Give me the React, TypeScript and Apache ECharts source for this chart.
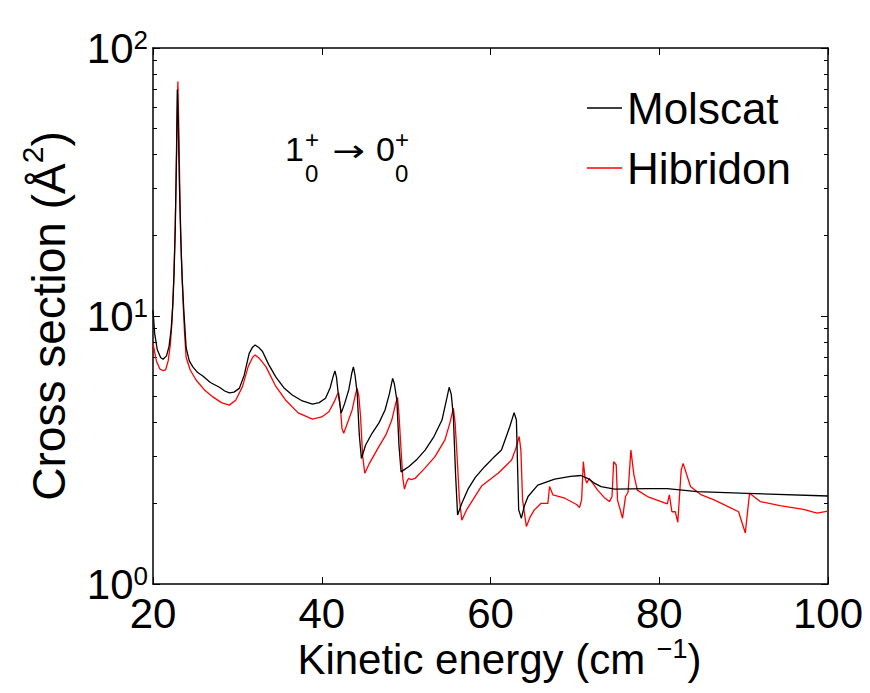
import React, { useEffect, useRef } from "react";
import * as echarts from "echarts";

// ---- data ----
const xTickValues = [20, 40, 60, 80, 100];
const yDecadeTicks = [1, 10, 100];
const yMinorTicks = [2, 3, 4, 5, 6, 7, 8, 9, 20, 30, 40, 50, 60, 70, 80, 90];
const seriesNames = ["Molscat", "Hibridon"];

const molscatE = [
  20.0, 20.2, 20.5, 20.9, 21.2, 21.6, 21.9, 22.15, 22.35, 22.5, 22.65, 22.78, 22.88, 23.0, 23.12,
  23.28, 23.45, 23.65, 23.93, 24.3, 24.72, 25.3, 25.9, 26.8, 27.87, 28.5, 29.05, 29.6, 30.23, 30.8,
  31.4, 31.8, 32.1, 32.5, 32.98, 33.7, 34.55, 35.5, 36.5, 37.7, 38.9, 39.7, 40.45, 41.0, 41.35,
  41.56, 41.75, 41.95, 42.3, 42.7, 43.2, 43.55, 43.75, 43.95, 44.2, 44.45, 44.7, 45.2, 45.96, 46.8,
  47.5, 48.0, 48.4, 48.6, 48.9, 49.15, 49.4, 49.7, 50.3, 51.2, 52.25, 53.3, 54.25, 54.8, 55.1,
  55.35, 55.6, 55.85, 56.1, 56.6, 57.37, 58.2, 59.3, 60.3, 61.3, 62.28, 62.8, 63.07, 63.34, 63.66,
  64.0, 64.45, 65.6, 67.6, 69.5, 70.7, 71.5, 72.3, 73.1, 74.7, 78.6, 80.95, 84.5, 90.4, 100.0,
];
const molscatV = [
  10.5, 8.6, 7.5, 7.0, 6.9, 7.1, 7.7, 8.9, 11, 14.5, 22, 40, 70, 52, 32,
  20, 14, 10.5, 7.6, 6.8, 6.46, 6.15, 5.97, 5.65, 5.42, 5.25, 5.17, 5.2, 5.37, 6.0,
  7.25, 7.65, 7.79, 7.65, 7.37, 6.6, 5.93, 5.4, 5.07, 4.82, 4.69, 4.75, 4.93, 5.4, 5.95,
  6.24, 5.9, 5.15, 4.34, 4.7, 5.3, 6.1, 6.46, 6.0, 5.15, 3.6, 2.94, 3.3, 3.65, 4.0,
  4.46, 5.1, 5.85, 5.6, 4.86, 3.3, 2.62, 2.66, 2.74, 2.9, 3.16, 3.55, 4.09, 4.9, 5.42,
  5.1, 4.21, 2.6, 1.81, 2.0, 2.27, 2.5, 2.74, 2.95, 3.16, 3.86, 4.36, 4.09, 1.89, 1.76,
  1.95, 2.12, 2.34, 2.46, 2.52, 2.54, 2.48, 2.38, 2.31, 2.26, 2.27, 2.27, 2.21, 2.18, 2.13,
];

const hibridonE = [
  20.0, 20.4, 20.8, 21.2, 21.5, 21.8, 22.05, 22.25, 22.45, 22.6, 22.75, 22.87, 22.95, 23.06, 23.2,
  23.35, 23.55, 23.75, 23.93, 24.4, 25.1, 26.1, 27.1, 28.1, 29.05, 29.8, 30.6, 31.3, 31.8, 32.1,
  32.6, 33.4, 34.5, 35.7, 37.2, 38.9, 40.0, 40.85, 41.5, 41.85, 42.0, 42.2, 42.4, 42.6, 43.0,
  43.6, 44.0, 44.2, 44.4, 44.6, 44.85, 45.1, 45.6, 46.75, 47.6, 48.3, 48.75, 48.98, 49.15, 49.4,
  49.6, 49.8, 50.05, 50.3, 50.6, 51.07, 52.2, 53.4, 54.6, 55.2, 55.6, 55.8, 56.0, 56.3, 56.6,
  57.2, 58.15, 58.94, 60.9, 62.0, 62.5, 63.0, 63.4, 63.6, 63.8, 64.25, 64.7, 65.2, 66.0, 66.8,
  67.0, 67.4, 68.8, 70.2, 70.55, 70.8, 71.0, 71.2, 71.4, 71.7, 72.7, 73.5, 74.1, 74.4, 74.6,
  74.9, 75.05, 75.65, 76.0, 76.3, 76.64, 77.0, 77.4, 78.6, 80.95, 81.2, 81.5, 81.9, 82.2, 82.6,
  82.83, 83.7, 85.0, 86.5, 89.4, 90.2, 90.7, 91.97, 94.3, 97.1, 98.7, 100.0,
];
const hibridonV = [
  7.9, 6.8, 6.35, 6.25, 6.3, 6.8, 7.8, 9.5, 13.5, 19.5, 33, 55, 75, 50, 27,
  17, 11.5, 8.5, 7.0, 6.3, 5.77, 5.3, 4.99, 4.75, 4.65, 4.85, 5.45, 6.5, 7.0, 7.16,
  6.95, 6.46, 5.5, 4.86, 4.35, 4.12, 4.2, 4.39, 4.8, 5.1, 5.17, 4.6, 3.8, 3.65, 3.95,
  4.46, 5.1, 5.37, 5.0, 4.21, 3.0, 2.59, 2.8, 3.25, 3.6, 4.09, 4.7, 4.97, 4.3, 3.16,
  2.5, 2.26, 2.4, 2.48, 2.45, 2.48, 2.7, 2.98, 3.45, 4.0, 4.53, 4.0, 3.16, 2.1, 1.73,
  1.9, 2.12, 2.32, 2.59, 2.8, 2.9, 3.2, 3.55, 3.16, 2.06, 1.64, 1.78, 1.89, 2.0, 2.0,
  2.31, 2.15, 2.09, 1.98, 1.93, 2.06, 2.86, 2.5, 2.38, 2.48, 2.24, 2.1, 2.03, 2.12, 2.86,
  2.78, 2.06, 1.76, 2.12, 2.2, 3.16, 2.55, 2.24, 2.12, 1.99, 2.15, 1.86, 1.86, 1.7, 2.66,
  2.82, 2.31, 2.15, 2.06, 1.86, 1.55, 2.18, 2.03, 1.96, 1.9, 1.84, 1.87,
];

const FONT = '"Liberation Sans", Arial, Helvetica, sans-serif';
const ARROW_FONT = '"DejaVu Sans", "Liberation Sans", sans-serif';

function zip(xs: number[], ys: number[]) {
  return xs.map((x, i) => [x, ys[i]]);
}

const axisLineStyle = { color: "#000", width: 1.5 };
const tickLineStyle = { color: "#000", width: 1 };

export default function App() {
  const ref = useRef<HTMLDivElement>(null);

  useEffect(() => {
    if (!ref.current) return;
    const chart = echarts.init(ref.current, null, { renderer: "svg" });

    const logCommon = {
      type: "log",
      logBase: 10,
      min: yDecadeTicks[0],
      max: yDecadeTicks[yDecadeTicks.length - 1],
      splitLine: { show: false },
      minorTick: { show: false },
    };

    const option: any = {
      animation: false,
      backgroundColor: "#fff",
      textStyle: { fontFamily: FONT },
      grid: { left: 150, right: 42, top: 48, bottom: 109, containLabel: false },
      legend: {
        orient: "vertical",
        left: 587,
        top: 86,
        padding: 0,
        icon: "rect",
        itemWidth: 35,
        itemHeight: 1.3,
        itemGap: 16,
        data: seriesNames,
        textStyle: { fontSize: 44, color: "#000", lineHeight: 44, fontFamily: FONT },
      },
      xAxis: [
        {
          type: "value",
          position: "bottom",
          min: xTickValues[0],
          max: xTickValues[xTickValues.length - 1],
          interval: 20,
          axisLine: { show: true, onZero: false, lineStyle: axisLineStyle },
          axisTick: { show: true, inside: true, length: 7, lineStyle: tickLineStyle },
          axisLabel: { fontSize: 42, lineHeight: 36, color: "#000", margin: 11, fontFamily: FONT },
          splitLine: { show: false },
          name: "{a|Kinetic energy (cm }{s|\u22121}{a|)}",
          nameLocation: "middle",
          nameGap: 51,
          nameMoveOverlap: false,
          nameTextStyle: {
            color: "#000",
            fontFamily: FONT,
            fontSize: 42,
            padding: [0, 0, 0, 18],
            rich: {
              a: { fontSize: 42, lineHeight: 42, padding: [7, 0, 0, 0], fontFamily: FONT, color: "#000" },
              s: { fontSize: 27, lineHeight: 27, verticalAlign: "top", fontFamily: FONT, color: "#000" },
            },
          },
        },
        {
          type: "value",
          position: "top",
          min: xTickValues[0],
          max: xTickValues[xTickValues.length - 1],
          interval: 20,
          axisLine: { show: true, onZero: false, lineStyle: axisLineStyle },
          axisTick: { show: true, inside: true, length: 7, lineStyle: tickLineStyle },
          axisLabel: { show: false },
          splitLine: { show: false },
        },
      ],
      yAxis: [
        {
          ...logCommon,
          position: "left",
          axisLine: { show: true, onZero: false, lineStyle: axisLineStyle },
          axisTick: { show: true, inside: true, length: 7, lineStyle: tickLineStyle },
          axisLabel: {
            margin: 5,
            formatter: (v: number) => `{b|10}{e|${Math.round(Math.log10(v))}}`,
            rich: {
              b: { fontSize: 42, lineHeight: 42, padding: [14, 0, 14, 0], fontFamily: FONT, color: "#000" },
              e: { fontSize: 26, lineHeight: 26, verticalAlign: "top", fontFamily: FONT, color: "#000" },
            },
          },
          name: "{a|Cross section (\u00C5}{s|2}{a|)}",
          nameLocation: "middle",
          nameGap: 90,
          nameMoveOverlap: false,
          nameTextStyle: {
            color: "#000",
            fontFamily: FONT,
            fontSize: 46,
            rich: {
              a: { fontSize: 46, lineHeight: 46, padding: [18, 0, 0, 0], fontFamily: FONT, color: "#000" },
              s: { fontSize: 30, lineHeight: 30, verticalAlign: "top", fontFamily: FONT, color: "#000" },
            },
          },
        },
        {
          ...logCommon,
          position: "left",
          axisLine: { show: false },
          axisTick: { show: true, inside: true, length: 4, customValues: yMinorTicks, lineStyle: tickLineStyle },
          axisLabel: { show: false },
        },
        {
          ...logCommon,
          position: "right",
          axisLine: { show: true, onZero: false, lineStyle: axisLineStyle },
          axisTick: { show: true, inside: true, length: 7, lineStyle: tickLineStyle },
          axisLabel: { show: false },
        },
        {
          ...logCommon,
          position: "right",
          axisLine: { show: false },
          axisTick: { show: true, inside: true, length: 4, customValues: yMinorTicks, lineStyle: tickLineStyle },
          axisLabel: { show: false },
        },
      ],
      series: [
        {
          name: seriesNames[0],
          type: "line",
          xAxisIndex: 0,
          yAxisIndex: 0,
          data: zip(molscatE, molscatV),
          showSymbol: false,
          symbol: "none",
          color: "#000000",
          lineStyle: { color: "#000000", width: 1.3 },
          z: 3,
        },
        {
          name: seriesNames[1],
          type: "line",
          xAxisIndex: 0,
          yAxisIndex: 0,
          data: zip(hibridonE, hibridonV),
          showSymbol: false,
          symbol: "none",
          color: "#ff0000",
          lineStyle: { color: "#ff0000", width: 1.3 },
          z: 2,
        },
      ],
      graphic: [
        { type: "text", left: 285, top: 132, style: { text: "1", fontSize: 34, fontFamily: FONT, fill: "#000" } },
        { type: "text", left: 305, top: 127, style: { text: "+", fontSize: 24, fontFamily: FONT, fill: "#000" } },
        { type: "text", left: 305, top: 161, style: { text: "0", fontSize: 24, fontFamily: FONT, fill: "#000" } },
        { type: "text", x: 332, y: 136, scaleX: 1.3, style: { text: "\u2192", fontSize: 30, fontFamily: ARROW_FONT, fill: "#000" } },
        { type: "text", left: 376, top: 132, style: { text: "0", fontSize: 34, fontFamily: FONT, fill: "#000" } },
        { type: "text", left: 395, top: 127, style: { text: "+", fontSize: 24, fontFamily: FONT, fill: "#000" } },
        { type: "text", left: 395, top: 161, style: { text: "0", fontSize: 24, fontFamily: FONT, fill: "#000" } },
      ],
    };

    chart.setOption(option);
    return () => chart.dispose();
  }, []);

  return <div ref={ref} style={{ width: 870, height: 693, margin: -8 }} />;
}
